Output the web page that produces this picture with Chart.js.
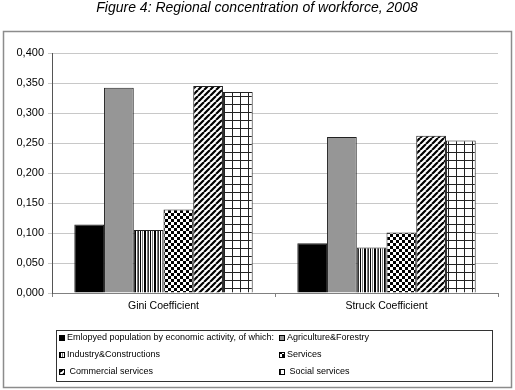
<!DOCTYPE html>
<html>
<head>
<meta charset="utf-8">
<script src="https://cdn.jsdelivr.net/npm/chart.js@4"></script>
<style>
  html, body { margin: 0; padding: 0; background: #fff; }
  #wrap { width: 515px; height: 390px; }
</style>
</head>
<body>
<div id="wrap"><canvas id="chart" width="515" height="390"></canvas></div>
<script>
const title = "Figure 4: Regional concentration of workforce, 2008";
const categories = ["Gini Coefficient", "Struck Coefficient"];
const seriesNames = [
  "Emlopyed population by economic activity, of which:",
  "Agriculture&Forestry",
  "Industry&Constructions",
  "Services",
  " Commercial services",
  " Social services",
];
const employed = [0.114, 0.083];
const agriculture = [0.342, 0.260];
const industry = [0.105, 0.076];
const services = [0.139, 0.101];
const commercial = [0.345, 0.262];
const social = [0.335, 0.254];
const yTicks = [0, 0.05, 0.1, 0.15, 0.2, 0.25, 0.3, 0.35, 0.4];

const FONT = "'Liberation Sans', Arial, sans-serif";

// small tiles used as bar fills
function makePattern(w, h, draw) {
  const c = document.createElement("canvas");
  c.width = w;
  c.height = h;
  const g = c.getContext("2d");
  g.fillStyle = "#fff";
  g.fillRect(0, 0, w, h);
  draw(g);
  return document.createElement("canvas").getContext("2d").createPattern(c, "repeat");
}

const stripes = makePattern(10, 4, function (g) {
  g.fillStyle = "#000";
  g.fillRect(0, 0, 1, 4);
  g.fillRect(4, 0, 1, 4);
  g.fillRect(5, 0, 1, 4);
  g.fillStyle = "#777";
  g.fillRect(2, 0, 1, 4);
  g.fillRect(7, 0, 1, 4);
  g.fillStyle = "#333";
  g.fillRect(8, 0, 1, 4);
});

const checker = makePattern(6, 6, function (g) {
  g.fillStyle = "#000";
  g.fillRect(0, 0, 3, 3);
  g.fillRect(3, 3, 3, 3);
});

const diagonal = makePattern(6, 6, function (g) {
  g.strokeStyle = "#000";
  g.lineWidth = 2.2;
  g.beginPath();
  for (let k = -6; k <= 6; k += 6) {
    g.moveTo(k, 6);
    g.lineTo(k + 6, 0);
  }
  g.stroke();
});

const grid = makePattern(8, 8, function (g) {
  g.fillStyle = "#222";
  g.fillRect(0, 0, 8, 1);
  g.fillRect(0, 0, 1, 8);
});

const fills = ["#000000", "#969696", stripes, checker, diagonal, grid];
const seriesData = [employed, agriculture, industry, services, commercial, social];

const frame = {
  id: "frame",
  beforeDraw(chart) {
    const ctx = chart.ctx;
    ctx.save();
    ctx.fillStyle = "#fff";
    ctx.fillRect(0, 0, chart.width, chart.height);
    ctx.fillStyle = "#000";
    ctx.font = "italic 14px " + FONT;
    ctx.textAlign = "center";
    ctx.textBaseline = "alphabetic";
    ctx.fillText(title, 257, 12);
    ctx.strokeStyle = "#8c8c8c";
    ctx.lineWidth = 1.5;
    ctx.strokeRect(3.5, 31.5, 508, 356);
    ctx.restore();
  },
  afterDraw(chart) {
    const ctx = chart.ctx;
    ctx.save();
    ctx.strokeStyle = "#333";
    ctx.lineWidth = 1;
    ctx.strokeRect(56.5, 330.5, 436, 51);
    const cols = [59, 279];
    const rows = [338, 355, 372];
    ctx.font = "9px " + FONT;
    ctx.textBaseline = "middle";
    ctx.textAlign = "left";
    chart.data.datasets.forEach(function (ds, i) {
      const x = cols[i % 2];
      const y = rows[Math.floor(i / 2)];
      ctx.fillStyle = ds.backgroundColor;
      ctx.fillRect(x, y - 3, 6, 6);
      ctx.strokeStyle = "#000";
      ctx.strokeRect(x + 0.5, y - 2.5, 5, 5);
      ctx.fillStyle = "#000";
      ctx.fillText(ds.label, x + 8, y);
    });
    ctx.restore();
  },
};

new Chart(document.getElementById("chart"), {
  type: "bar",
  data: {
    labels: categories,
    datasets: seriesData.map(function (d, i) {
      return {
        label: seriesNames[i],
        data: d,
        backgroundColor: fills[i],
        borderColor: "#222",
        borderWidth: 1,
        barPercentage: 1,
        categoryPercentage: 0.8,
      };
    }),
  },
  options: {
    responsive: false,
    animation: false,
    layout: { padding: { top: 53, right: 17, bottom: 72, left: 0 } },
    plugins: {
      legend: { display: false },
      tooltip: { enabled: false },
    },
    scales: {
      x: {
        afterFit: function (s) { s.height = 25; },
        grid: { drawOnChartArea: false, tickLength: 4, color: "#808080", offset: true },
        border: { color: "#808080" },
        ticks: { color: "#000", font: { family: FONT, size: 10.5 }, padding: 3 },
      },
      y: {
        min: 0,
        max: 0.4,
        afterFit: function (s) { s.width = 52; },
        afterBuildTicks: function (s) { s.ticks = yTicks.map(function (v) { return { value: v }; }); },
        grid: { color: "#c8c8c8", tickLength: 4 },
        border: { color: "#555" },
        ticks: {
          color: "#000",
          padding: 4,
          font: { family: FONT, size: 11 },
          callback: function (v) { return v.toFixed(3).replace(".", ","); },
        },
      },
    },
  },
  plugins: [frame],
});
</script>
</body>
</html>
